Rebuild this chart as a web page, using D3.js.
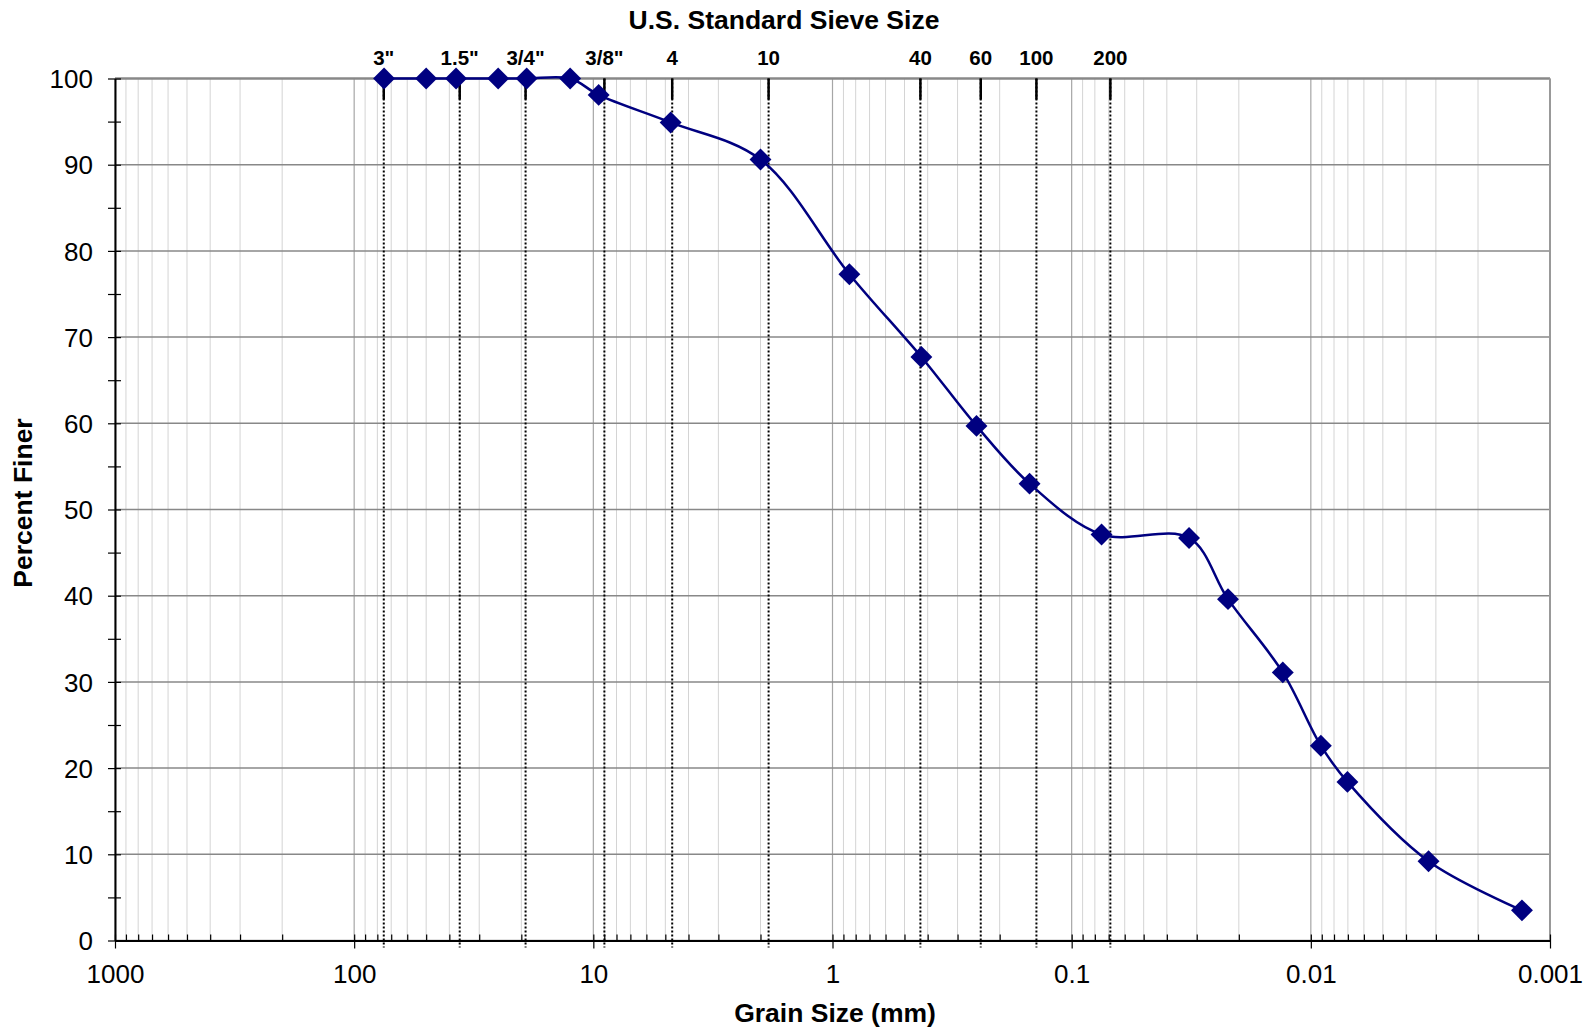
<!DOCTYPE html>
<html><head><meta charset="utf-8">
<script src="https://cdn.jsdelivr.net/npm/d3@7"></script>
<style>
body{margin:0;background:#fff}
text{font-family:"Liberation Sans",Arial,sans-serif;fill:#000}
</style>
</head><body>
<svg id="c" width="1589" height="1031"></svg>
<script>
// ---- data ----
const grainSize = [75, 50, 37.5, 25, 19, 12.5, 9.5, 4.75, 2.0, 0.85, 0.425, 0.25, 0.15, 0.075,
                   0.0323, 0.0222, 0.0131, 0.00908, 0.00703, 0.00322, 0.00131];
const percentFiner = [100, 100, 100, 100, 100, 100, 98.1, 94.9, 90.6, 77.3, 67.7, 59.7, 53.0, 47.1,
                      46.7, 39.6, 31.1, 22.6, 18.4, 9.2, 3.5];
const sieveLabels = ['3"', '1.5"', '3/4"', '3/8"', '4', '10', '40', '60', '100', '200'];
const sieveSizes = [75.2, 36.2, 19.2, 8.99, 4.68, 1.85, 0.429, 0.240, 0.1404, 0.0689];
const xTickValues = [1000, 100, 10, 1, 0.1, 0.01, 0.001];
const xTickLabels = ["1000", "100", "10", "1", "0.1", "0.01", "0.001"];
const yTickValues = [0, 10, 20, 30, 40, 50, 60, 70, 80, 90, 100];
const yMinorValues = [5, 15, 25, 35, 45, 55, 65, 75, 85, 95];
const titleTop = "U.S. Standard Sieve Size";
const titleX = "Grain Size (mm)";
const titleY = "Percent Finer";

// ---- layout ----
const L = 115, R = 1550, T = 78.5, B = 940.5;
const svg = d3.select('#c');
const x = d3.scaleLog().domain([1000, 0.001]).range([L, R]);
const y = d3.scaleLinear().domain([0, 100]).range([B, T]);

const minorX = [];
for (let e = -3; e < 3; e++) for (let k = 2; k <= 9; k++) minorX.push(+(k * Math.pow(10, e)).toPrecision(3));

// minor vertical grid
svg.append('g').selectAll('line').data(minorX).join('line')
  .attr('x1', d => x(d)).attr('x2', d => x(d)).attr('y1', T).attr('y2', B)
  .attr('stroke', '#d4d4d4').attr('stroke-width', 1);
// major vertical grid
svg.append('g').selectAll('line').data(xTickValues).join('line')
  .attr('x1', d => x(d)).attr('x2', d => x(d)).attr('y1', T).attr('y2', B)
  .attr('stroke', '#a6a6a6').attr('stroke-width', 1.2);
// horizontal grid
svg.append('g').selectAll('line').data(yTickValues).join('line')
  .attr('x1', L).attr('x2', R).attr('y1', d => y(d)).attr('y2', d => y(d))
  .attr('stroke', '#888').attr('stroke-width', d => d === 100 ? 2.5 : 1.5);
// right border
svg.append('line').attr('x1', R).attr('x2', R).attr('y1', T).attr('y2', B)
  .attr('stroke', '#999').attr('stroke-width', 2);

// sieve marker lines
const sg = svg.append('g');
sg.selectAll('line.dot').data(sieveSizes).join('line').attr('class', 'dot')
  .attr('x1', d => x(d)).attr('x2', d => x(d)).attr('y1', T).attr('y2', B + 7)
  .attr('stroke', '#000').attr('stroke-width', 2).attr('stroke-dasharray', '2,2');
sg.selectAll('line.solid').data(sieveSizes).join('line').attr('class', 'solid')
  .attr('x1', d => x(d)).attr('x2', d => x(d)).attr('y1', T).attr('y2', T + 21)
  .attr('stroke', '#000').attr('stroke-width', 2.5);
sg.selectAll('text').data(sieveLabels).join('text')
  .attr('x', (d, i) => x(sieveSizes[i])).attr('y', 65)
  .attr('text-anchor', 'middle').attr('font-size', 20.5).attr('font-weight', 'bold')
  .text(d => d);

// data curve
const pts = grainSize.map((g, i) => [x(g), y(percentFiner[i])]);
svg.append('path')
  .attr('d', d3.line().curve(d3.curveCatmullRom.alpha(0.5))(pts))
  .attr('fill', 'none').attr('stroke', '#000080').attr('stroke-width', 2.5);
svg.append('g').selectAll('path').data(pts).join('path')
  .attr('d', d3.symbol().type(d3.symbolSquare).size(240))
  .attr('transform', d => `translate(${d[0]},${d[1]}) rotate(45)`)
  .attr('fill', '#000080');

// axes
const xAxis = svg.append('g').attr('transform', `translate(0,${B})`)
  .call(d3.axisBottom(x).tickValues(xTickValues).tickFormat((d, i) => xTickLabels[i]).tickSize(8).tickSizeOuter(0));
xAxis.select('.domain').attr('stroke', '#000').attr('stroke-width', 2);
xAxis.selectAll('.tick line').attr('y1', -6).attr('y2', 8).attr('stroke', '#000').attr('stroke-width', 1.2);
xAxis.selectAll('.tick text').attr('y', 42).attr('dy', 0).attr('font-size', 26)
  .style('font-family', '"Liberation Sans",Arial,sans-serif');
const xMinor = svg.append('g').attr('transform', `translate(0,${B})`)
  .call(d3.axisBottom(x).tickValues(minorX).tickFormat('').tickSize(-6).tickSizeOuter(0));
xMinor.select('.domain').remove();
xMinor.selectAll('.tick line').attr('stroke', '#000').attr('stroke-width', 1.2);

const yAxis = svg.append('g').attr('transform', `translate(${L},0)`)
  .call(d3.axisLeft(y).tickValues(yTickValues).tickSize(6).tickSizeOuter(0));
yAxis.select('.domain').attr('stroke', '#000').attr('stroke-width', 2);
yAxis.selectAll('.tick line').attr('x1', -7).attr('x2', 6).attr('stroke', '#000').attr('stroke-width', 1.2);
yAxis.selectAll('.tick text').attr('x', -22).attr('dy', '0.35em').attr('font-size', 26)
  .style('font-family', '"Liberation Sans",Arial,sans-serif');
const yMinor = svg.append('g').attr('transform', `translate(${L},0)`)
  .call(d3.axisLeft(y).tickValues(yMinorValues).tickFormat('').tickSize(6).tickSizeOuter(0));
yMinor.select('.domain').remove();
yMinor.selectAll('.tick line').attr('x1', -7).attr('x2', 6).attr('stroke', '#000').attr('stroke-width', 1.2);

// titles
svg.append('text').attr('x', 784).attr('y', 29).attr('text-anchor', 'middle')
  .attr('font-size', 26.5).attr('font-weight', 'bold').text(titleTop);
svg.append('text').attr('x', 835).attr('y', 1022).attr('text-anchor', 'middle')
  .attr('font-size', 26.5).attr('font-weight', 'bold').text(titleX);
svg.append('text').attr('transform', 'translate(32,503) rotate(-90)').attr('text-anchor', 'middle')
  .attr('font-size', 26.5).attr('font-weight', 'bold').text(titleY);
</script>
</body></html>
